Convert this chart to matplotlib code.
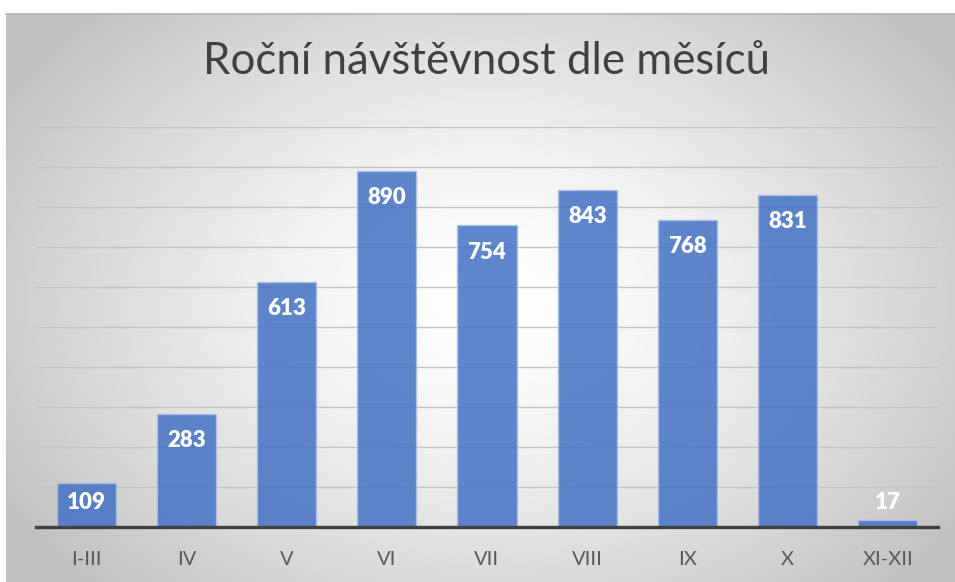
import numpy as np
import matplotlib
matplotlib.use("Agg")
import matplotlib.pyplot as plt

categories = ["I-III", "IV", "V", "VI", "VII", "VIII", "IX", "X", "XI-XII"]
values = [109, 283, 613, 890, 754, 843, 768, 831, 17]
title = "Roční návštěvnost dle měsíců"

W, H, DPI = 955, 582, 100
fig = plt.figure(figsize=(W / DPI, H / DPI), dpi=DPI)
fig.patch.set_facecolor("white")

# radial gradient background panel
bg = fig.add_axes([0, 0, 1, 1], zorder=-10)
bg.set_xlim(0, W)
bg.set_ylim(H, 0)
bg.axis("off")
x0, y0 = 6, 13
xs = np.arange(x0, W) + 0.5
ys = np.arange(y0, H) + 0.5
X, Y = np.meshgrid(xs, ys)
cx, cy = 490, 300
r = np.sqrt(((X - cx) / 560) ** 2 + ((Y - cy) / 400) ** 2)
v = 1.0 - 0.24 * np.clip(r, 0, 1) ** 1.5
img = np.dstack([v, v, v])
bg.imshow(img, extent=(x0, W, H, y0), interpolation="bilinear", aspect="auto")
bg.plot([x0, W], [y0 + 0.5, y0 + 0.5], color="#b8b8b8", lw=1.2)

left, right = 36 / W, 938 / W
bottom, top = (H - 527) / H, (H - 127) / H
ax = fig.add_axes([left, bottom, right - left, top - bottom])
ax.patch.set_alpha(0)

xpos = np.arange(len(categories))
ax.bar(xpos, values, width=0.59, color="#4472C4", alpha=0.85,
       edgecolor="#a9c0e6", linewidth=1.0, zorder=3)

ax.set_xlim(-0.5, len(categories) - 0.5)
ax.set_ylim(0, 1000)
ax.set_yticks(np.arange(0, 1001, 100))
ax.yaxis.grid(True, color="#c4c4c4", lw=1.0, zorder=0)
ax.set_axisbelow(True)
ax.tick_params(axis="y", left=False, labelleft=False)
ax.tick_params(axis="x", bottom=False, length=0, pad=17)
ax.set_xticks(xpos)
ax.set_xticklabels(categories, fontsize=14.5, color="#595959", family="Lato")
for s in ["top", "right", "left"]:
    ax.spines[s].set_visible(False)
ax.spines["bottom"].set_color("#404040")
ax.spines["bottom"].set_linewidth(2.4)
ax.spines["bottom"].set_zorder(5)

for xi, val in zip(xpos, values):
    ypos = max(val - 67, 62)
    ax.text(xi, ypos, str(val), ha="center", va="center", color="white",
            fontsize=16, fontweight="heavy", family="Lato", zorder=6)

fig.text(486 / W, 1 - 62 / H, title, ha="center", va="center",
         fontsize=31.5, color="#404040", family="Lato")

fig.savefig("out.png", dpi=DPI)
